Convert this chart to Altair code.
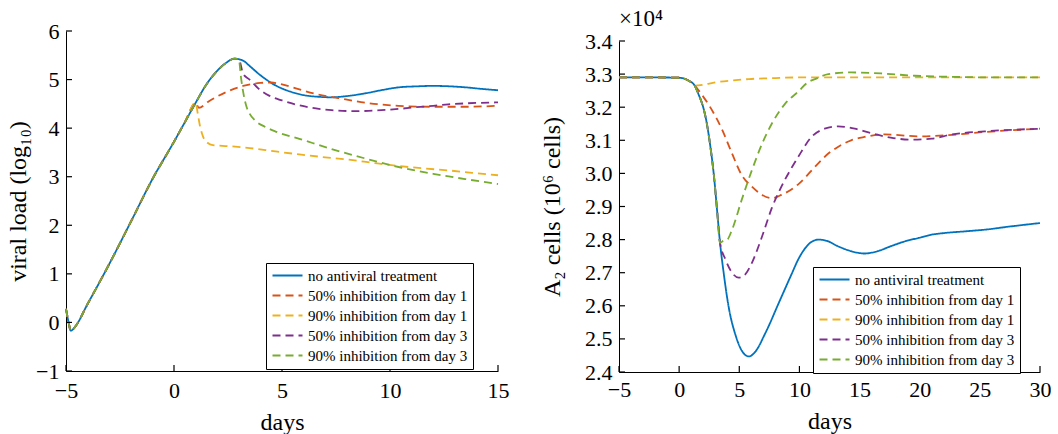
import altair as alt
import pandas as pd

FONT = "Liberation Serif"
SERIES = ["no antiviral treatment", "50% inhibition from day 1", "90% inhibition from day 1",
          "50% inhibition from day 3", "90% inhibition from day 3"]
COLORS = ["#0072BD", "#D95319", "#EDB120", "#7E2F8E", "#77AC30"]
DASHES = [[1, 0], [8, 5], [8, 5], [8, 5], [8, 5]]

# ---------------- left panel: viral load (log10) ----------------
vl_blue_day = [-5, -4.88, -4.78, -4.6, -4, -3, -2, -1, 0, 0.5, 1, 1.5, 2, 2.4, 2.8, 3.2, 3.5, 4,
               4.7, 5.4, 6, 6.7, 7.3, 8, 8.9, 9.7, 10.4, 11.2, 12, 12.8, 13.5, 14.2, 15]
vl_blue_val = [0.28, 0.0, -0.17, -0.1, 0.38, 1.2, 2.07, 2.95, 3.72, 4.12, 4.52, 4.9, 5.18, 5.34,
               5.43, 5.39, 5.28, 5.09, 4.88, 4.75, 4.68, 4.645, 4.635, 4.66, 4.72, 4.79, 4.84,
               4.86, 4.87, 4.86, 4.84, 4.81, 4.78]
vl_o1_day = [1.15, 1.6, 2.4, 3.2, 4.0, 4.5, 5.0, 5.5, 6.5, 7.6, 8.9, 10.4, 12, 13.5, 15]
vl_o1_val = [4.42, 4.55, 4.74, 4.87, 4.93, 4.94, 4.90, 4.84, 4.71, 4.62, 4.52, 4.46, 4.44, 4.44, 4.46]
vl_y1_day = [1.1, 1.2, 1.35, 1.55, 1.8, 2.5, 3.5, 4.7, 5.8, 7, 8.1, 9.3, 10.4, 11.6, 12.7, 13.8, 15]
vl_y1_val = [4.3, 4.05, 3.82, 3.7, 3.65, 3.63, 3.59, 3.52, 3.46, 3.40, 3.35, 3.28, 3.22, 3.17,
             3.13, 3.08, 3.03]
vl_p3_day = [3.0, 3.2, 3.5, 3.9, 4.4, 5.0, 5.8, 6.5, 7.3, 8.4, 9.6, 10.5, 11.2, 12, 12.7, 13.5, 15]
vl_p3_val = [5.42, 5.12, 5.0, 4.82, 4.67, 4.57, 4.47, 4.41, 4.37, 4.35, 4.37, 4.40, 4.43, 4.46,
             4.49, 4.51, 4.53]
vl_g3_day = [3.0, 3.1, 3.2, 3.35, 3.5, 3.8, 4.2, 4.7, 5.8, 7.3, 8.9, 10.4, 12, 13.5, 15]
vl_g3_val = [5.42, 5.05, 4.75, 4.45, 4.3, 4.14, 4.03, 3.93, 3.78, 3.57, 3.37, 3.2, 3.06, 2.95, 2.85]

# ---------------- right panel: A2 cells (x10^4) ----------------
a2_blue_day = [-5, -2, 0, 0.8, 1.3, 1.6, 2.0, 2.2, 2.6, 2.9, 3.15, 3.4, 3.7, 4.1, 4.7, 5.2, 5.8,
               6.3, 7.2, 8.3, 9.4, 9.9, 10.5, 11.0, 11.6, 12.3, 13.2, 14.3, 15.4, 16.5, 17.6,
               18.8, 19.9, 21, 22.1, 23.8, 25.4, 27.6, 30]
a2_blue_val = [3.29, 3.29, 3.289, 3.28, 3.265, 3.24, 3.2, 3.17, 3.08, 2.99, 2.89, 2.79, 2.70,
               2.60, 2.51, 2.465, 2.447, 2.46, 2.52, 2.61, 2.70, 2.74, 2.775, 2.793, 2.80,
               2.796, 2.78, 2.765, 2.758, 2.765, 2.78, 2.795, 2.805, 2.815, 2.82, 2.825, 2.83,
               2.84, 2.85]
a2_o1_day = [1.6, 2.0, 2.5, 3.6, 4.4, 5.2, 6.05, 6.9, 7.7, 8.5, 9.9, 11.3, 12.4, 13.2, 14.3,
             15.4, 17.1, 19.9, 22.1, 25.4, 30]
a2_o1_val = [3.252, 3.232, 3.205, 3.13, 3.06, 2.995, 2.96, 2.935, 2.925, 2.935, 2.967, 3.02,
             3.06, 3.08, 3.10, 3.11, 3.118, 3.112, 3.115, 3.125, 3.135]
a2_y1_day = [1.6, 2.0, 3.0, 4.5, 5.8, 8.0, 10, 30]
a2_y1_val = [3.266, 3.268, 3.275, 3.281, 3.285, 3.288, 3.29, 3.29]
a2_p3_day = [3.85, 4.4, 4.95, 5.5, 6.05, 6.9, 7.7, 8.5, 9.4, 9.9, 11.0, 12.1, 13.2, 14.6, 15.9,
             17.6, 19.3, 21.0, 22.7, 25.4, 30]
a2_p3_val = [2.74, 2.70, 2.685, 2.695, 2.73, 2.81, 2.895, 2.96, 3.02, 3.05, 3.11, 3.135, 3.142,
             3.135, 3.122, 3.108, 3.102, 3.105, 3.118, 3.127, 3.135]
a2_g3_day = [3.7, 4.0, 4.4, 5.2, 6.05, 6.9, 7.7, 8.8, 9.9, 10.7, 11.3, 12.4, 14.3, 16.8, 19.6,
             22.4, 26.5, 30]
a2_g3_val = [2.797, 2.80, 2.83, 2.92, 3.01, 3.09, 3.15, 3.21, 3.247, 3.275, 3.285, 3.30, 3.305,
             3.302, 3.295, 3.292, 3.29, 3.29]

vl_xticks = [-5, 0, 5, 10, 15]
vl_yticks = [-1, 0, 1, 2, 3, 4, 5, 6]
a2_xticks = [-5, 0, 5, 10, 15, 20, 25, 30]
a2_yticks = [2.4, 2.5, 2.6, 2.7, 2.8, 2.9, 3.0, 3.1, 3.2, 3.3, 3.4]


def series_frame(blue_d, blue_v, parts):
    rows = []
    for d, v in zip(blue_d, blue_v):
        rows.append((d, v, SERIES[0], 0))
    for k, (start, dd, vv) in enumerate(parts, start=1):
        for d, v in zip(blue_d, blue_v):
            if d < start:
                rows.append((d, v, SERIES[k], k))
        for d, v in zip(dd, vv):
            rows.append((d, v, SERIES[k], k))
    return pd.DataFrame(rows, columns=["day", "value", "series", "k"])


left_df = series_frame(vl_blue_day, vl_blue_val, [
    (1.1, vl_o1_day, vl_o1_val), (1.05, vl_y1_day, vl_y1_val),
    (2.9, vl_p3_day, vl_p3_val), (2.9, vl_g3_day, vl_g3_val)])
right_df = series_frame(a2_blue_day, a2_blue_val, [
    (1.5, a2_o1_day, a2_o1_val), (1.5, a2_y1_day, a2_y1_val),
    (3.5, a2_p3_day, a2_p3_val), (3.5, a2_g3_day, a2_g3_val)])


def legend(x, y):
    return alt.Legend(title=None, orient="none", legendX=x, legendY=y,
                      symbolType="M-1,0H4", symbolSize=144, symbolStrokeWidth=1.8,
                      labelFont=FONT, labelFontSize=15, labelColor="black", labelOffset=22,
                      strokeColor="black", fillColor="white", padding=5, rowPadding=4,
                      cornerRadius=0, labelLimit=0)


def panel(df, xdom, xt, ydom, yt, yrange, h, w, ytitle, yfmt, ytp, xlp, xtp, lx, ly):
    xenc = alt.X("day:Q", title="days",
                 scale=alt.Scale(domain=xdom, nice=False, zero=False),
                 axis=alt.Axis(values=xt, format="d", labelPadding=xlp, titlePadding=xtp,
                               labelFlush=False, labelOverlap=False))
    yscale = alt.Scale(domain=ydom, nice=False, zero=False)
    if yrange is not None:
        yscale = alt.Scale(domain=ydom, nice=False, zero=False, range=yrange)
    yenc = alt.Y("value:Q", title=ytitle, scale=yscale,
                 axis=alt.Axis(values=yt, format=yfmt, labelPadding=7, titlePadding=ytp,
                               labelFlush=False, labelOverlap=False))
    lg = legend(lx, ly)
    lines = alt.Chart(df).mark_line(strokeWidth=1.8, interpolate="monotone").encode(
        x=xenc, y=yenc,
        color=alt.Color("series:N", scale=alt.Scale(domain=SERIES, range=COLORS), legend=lg),
        strokeDash=alt.StrokeDash("series:N", scale=alt.Scale(domain=SERIES, range=DASHES),
                                  legend=lg),
        order="k:Q",
    )
    xt_df = pd.DataFrame({"day": xt})
    yt_df = pd.DataFrame({"value": yt})
    xticks = alt.Chart(xt_df).mark_rule(color="black", strokeWidth=1.2).encode(
        x=xenc, y=alt.value(h), y2=alt.value(h - 6))
    yticks = alt.Chart(yt_df).mark_rule(color="black", strokeWidth=1.2).encode(
        y=yenc, x=alt.value(0), x2=alt.value(6))
    return alt.layer(lines, xticks, yticks).properties(width=w, height=h)


left = panel(left_df, [-5, 15], vl_xticks, [-1, 6], vl_yticks, None, 340, 432,
             "viral load (log₁₀)", "d", 5, 9, 9, 200, 232)
right_base = panel(right_df, [-5, 30], a2_xticks, [2.4, 3.4], a2_yticks, [341, 10], 341, 421,
                   "A₂ cells (10⁶ cells)", ".1f", 20, 7, 9, 194, 236)
mult = alt.Chart(pd.DataFrame({"t": ["×10⁴"]})).mark_text(
    align="left", baseline="alphabetic", font=FONT, fontSize=23, color="black").encode(
    text="t:N", x=alt.value(0), y=alt.value(-5))
right = alt.layer(right_base, mult)

chart = alt.hconcat(left, right, spacing=121, bounds="flush").resolve_legend(
    color="independent", strokeDash="independent").resolve_scale(
    color="independent", strokeDash="independent").properties(
    padding={"left": 6, "top": 8, "right": 0, "bottom": 0}
).configure_view(stroke=None).configure_axis(
    grid=False, ticks=False, domainColor="black", domainWidth=1,
    labelFont=FONT, labelFontSize=22, labelColor="black",
    titleFont=FONT, titleFontSize=24, titleFontWeight="normal", titleColor="black"
).configure_legend(labelFont=FONT, labelFontSize=15, labelColor="black")

chart.save("out.html", embed_options={"renderer": "svg", "actions": False})
